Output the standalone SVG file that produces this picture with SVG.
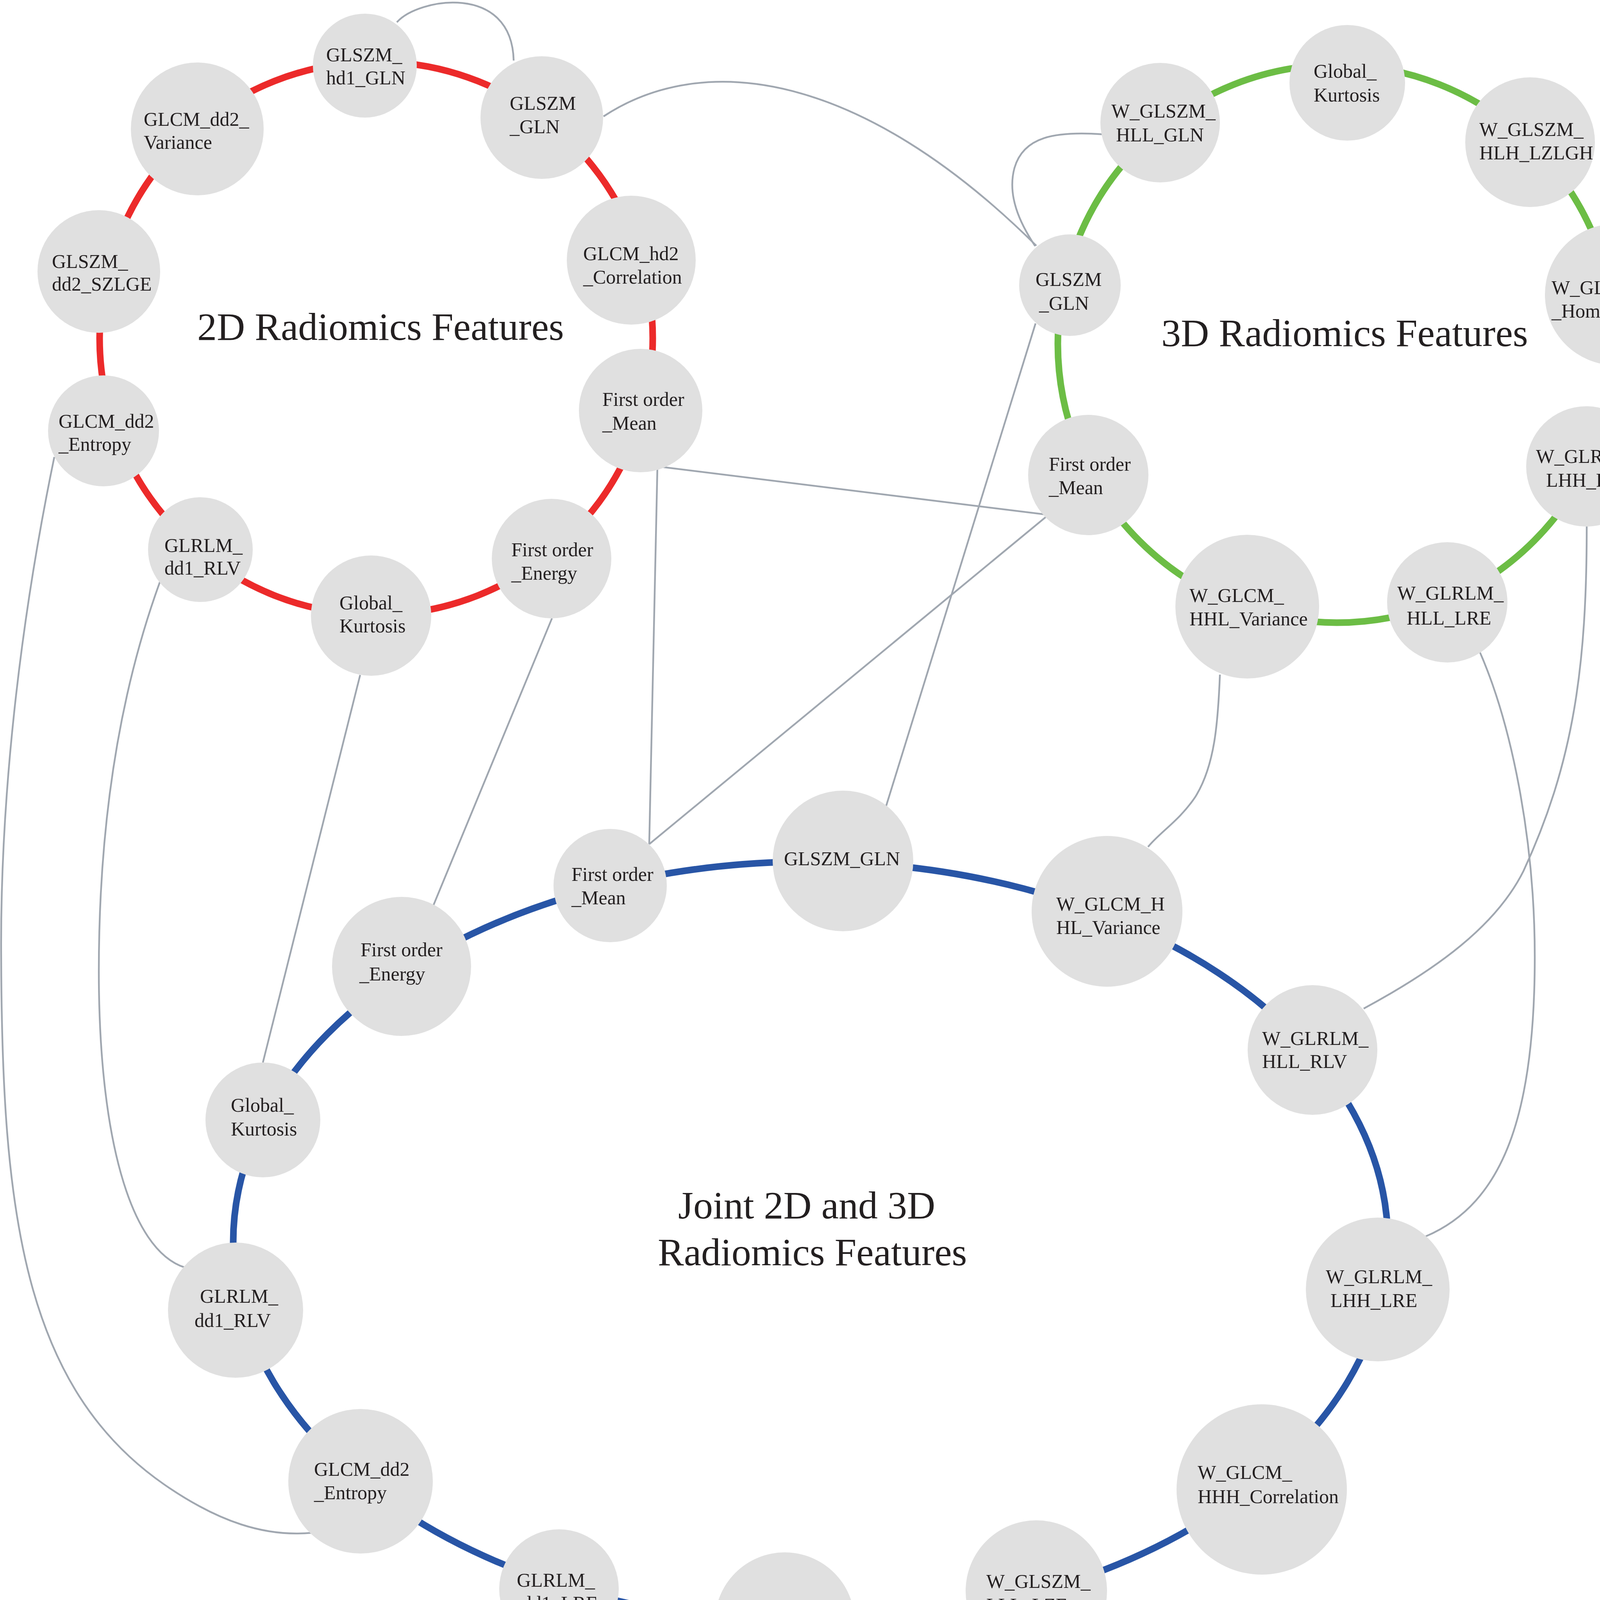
<svg xmlns="http://www.w3.org/2000/svg" width="4317" height="4406" viewBox="0 0 4317 4406">
<style>
.ring{fill:none;stroke-width:17}
.r2d{stroke:#ec2a2a}
.r3d{stroke:#6cbd45}
.rj{stroke:#2855a6}
.edge{fill:none;stroke:#a0a7b0;stroke-width:4.5}
.node circle{fill:#e0e0e0}
.node text{font-family:"Liberation Serif","Times New Roman",serif;font-size:50px;fill:#231f20}
.title{font-family:"Liberation Serif","Times New Roman",serif;font-size:100px;fill:#231f20}
</style>
<rect width="4317" height="4406" fill="#ffffff"/>
<g id="rings">
<circle class="ring r2d" cx="963" cy="866" r="708"/>
<circle class="ring r3d" cx="3422" cy="880" r="714"/>
<ellipse class="ring rj" cx="2075" cy="3180" rx="1478" ry="974"/>
</g>
<g id="connectors">
<path class="edge" d="M1016,57 C1070,-5 1310,-45 1315,155"/>
<path class="edge" d="M1545,298 C1800,130 2200,180 2653,629"/>
<path class="edge" d="M2825,344 C2700,335 2620,350 2597,430 C2578,500 2610,570 2650,630"/>
<path class="edge" d="M2651,828 L2268,2065"/>
<path class="edge" d="M1683,1194 L2684,1318"/>
<path class="edge" d="M1683,1194 L1662,2161"/>
<path class="edge" d="M2684,1318 L1662,2161"/>
<path class="edge" d="M1413,1583 L1104,2331"/>
<path class="edge" d="M922,1728 L673,2720"/>
<path class="edge" d="M410,1488 C340,1680 253,2000 253,2487 C253,2900 330,3200 474,3245"/>
<path class="edge" d="M139,1170 C50,1600 0,2050 3,2450 C5,3100 60,3550 420,3800 C560,3897 680,3935 798,3924"/>
<path class="edge" d="M3123,1727 C3118,1850 3110,1960 3060,2040 C3020,2100 2970,2130 2939,2168"/>
<path class="edge" d="M3783,1657 C3870,1850 3929,2150 3929,2450 C3929,2850 3850,3080 3650,3165"/>
<path class="edge" d="M4062,1348 C4062,1700 4030,1950 3900,2230 C3830,2370 3680,2480 3491,2582"/>
</g>
<g id="n2d_hd1_gln" class="node"><circle cx="934" cy="168" r="133"/><text x="835" y="157">GLSZM_</text><text x="835" y="216">hd1_GLN</text></g>
<g id="n2d_dd2_variance" class="node"><circle cx="505" cy="330" r="170"/><text x="368" y="322">GLCM_dd2_</text><text x="368" y="381">Variance</text></g>
<g id="n2d_glszm_gln" class="node"><circle cx="1387" cy="301" r="157"/><text x="1305" y="281">GLSZM</text><text x="1305" y="341">_GLN</text></g>
<g id="n2d_dd2_szlge" class="node"><circle cx="253" cy="695" r="157"/><text x="133" y="686">GLSZM_</text><text x="133" y="744">dd2_SZLGE</text></g>
<g id="n2d_hd2_corr" class="node"><circle cx="1616" cy="666" r="165"/><text x="1493" y="666">GLCM_hd2</text><text x="1493" y="726">_Correlation</text></g>
<g id="n2d_mean" class="node"><circle cx="1640" cy="1051" r="158"/><text x="1542" y="1039">First order</text><text x="1542" y="1100">_Mean</text></g>
<g id="n2d_entropy" class="node"><circle cx="265" cy="1103" r="142"/><text x="150" y="1095">GLCM_dd2</text><text x="150" y="1154">_Entropy</text></g>
<g id="n2d_rlv" class="node"><circle cx="513" cy="1407" r="134"/><text x="421" y="1413">GLRLM_</text><text x="421" y="1471">dd1_RLV</text></g>
<g id="n2d_kurtosis" class="node"><circle cx="950" cy="1576" r="154"/><text x="869" y="1560">Global_</text><text x="869" y="1619">Kurtosis</text></g>
<g id="n2d_energy" class="node"><circle cx="1412" cy="1430" r="153"/><text x="1309" y="1424">First order</text><text x="1309" y="1484">_Energy</text></g>
<g id="n3d_kurtosis" class="node"><circle cx="3449" cy="212" r="148"/><text x="3363" y="199">Global_</text><text x="3363" y="260">Kurtosis</text></g>
<g id="n3d_hll_gln" class="node"><circle cx="2970" cy="314" r="153"/><text x="2845" y="301">W_GLSZM_</text><text x="2857" y="362">HLL_GLN</text></g>
<g id="n3d_hlh_lzlgh" class="node"><circle cx="3917" cy="364" r="166"/><text x="3787" y="348">W_GLSZM_</text><text x="3787" y="408">HLH_LZLGH</text></g>
<g id="n3d_homogeneity" class="node"><circle cx="4136" cy="754" r="181"/><text x="3972" y="753">W_GLCM_HLL</text><text x="3972" y="813">_Homogeneity</text></g>
<g id="n3d_glszm_gln" class="node"><circle cx="2739" cy="730" r="130"/><text x="2651" y="732">GLSZM</text><text x="2660" y="793">_GLN</text></g>
<g id="n3d_mean" class="node"><circle cx="2786" cy="1216" r="154"/><text x="2685" y="1205">First order</text><text x="2685" y="1265">_Mean</text></g>
<g id="n3d_lhh_rlv" class="node"><circle cx="4061" cy="1194" r="154"/><text x="3932" y="1185">W_GLRLM_</text><text x="3958" y="1246">LHH_RLV</text></g>
<g id="n3d_hhl_variance" class="node"><circle cx="3193" cy="1553" r="184"/><text x="3045" y="1541">W_GLCM_</text><text x="3045" y="1601">HHL_Variance</text></g>
<g id="n3d_hll_lre" class="node"><circle cx="3705" cy="1542" r="154"/><text x="3577" y="1535">W_GLRLM_</text><text x="3601" y="1599">HLL_LRE</text></g>
<g id="nj_mean" class="node"><circle cx="1562" cy="2267" r="145"/><text x="1463" y="2255">First order</text><text x="1463" y="2315">_Mean</text></g>
<g id="nj_glszm_gln" class="node"><circle cx="2158" cy="2204" r="180"/><text x="2007" y="2215">GLSZM_GLN</text></g>
<g id="nj_energy" class="node"><circle cx="1028" cy="2474" r="178"/><text x="923" y="2448">First order</text><text x="920" y="2510">_Energy</text></g>
<g id="nj_kurtosis" class="node"><circle cx="673" cy="2867" r="147"/><text x="591" y="2846">Global_</text><text x="591" y="2907">Kurtosis</text></g>
<g id="nj_rlv" class="node"><circle cx="603" cy="3354" r="173"/><text x="512" y="3335">GLRLM_</text><text x="498" y="3397">dd1_RLV</text></g>
<g id="nj_entropy" class="node"><circle cx="923" cy="3792" r="185"/><text x="804" y="3778">GLCM_dd2</text><text x="804" y="3838">_Entropy</text></g>
<g id="nj_lre" class="node"><circle cx="1431" cy="4068" r="153"/><text x="1323" y="4062">GLRLM_</text><text x="1336" y="4121">dd1_LRE</text></g>
<g id="nj_llh_gln" class="node"><circle cx="2009" cy="4153" r="179"/><text x="1887" y="4150">W_GLSZM_</text><text x="1887" y="4211">LLH_GLN</text></g>
<g id="nj_lll_lze" class="node"><circle cx="2653" cy="4073" r="181"/><text x="2525" y="4065">W_GLSZM_</text><text x="2525" y="4126">LLL_LZE</text></g>
<g id="nj_hhh_corr" class="node"><circle cx="3230" cy="3813" r="218"/><text x="3066" y="3786">W_GLCM_</text><text x="3066" y="3848">HHH_Correlation</text></g>
<g id="nj_lhh_lre" class="node"><circle cx="3527" cy="3301" r="184"/><text x="3394" y="3285">W_GLRLM_</text><text x="3406" y="3346">LHH_LRE</text></g>
<g id="nj_hll_rlv" class="node"><circle cx="3360" cy="2688" r="166"/><text x="3231" y="2675">W_GLRLM_</text><text x="3231" y="2734">HLL_RLV</text></g>
<g id="nj_hhl_variance" class="node"><circle cx="2834" cy="2333" r="193"/><text x="2704" y="2331">W_GLCM_H</text><text x="2704" y="2391">HL_Variance</text></g>
<g id="titles">
<text class="title" x="505" y="870">2D Radiomics Features</text>
<text class="title" x="2973" y="886">3D Radiomics Features</text>
<text class="title" x="1736" y="3119">Joint 2D and 3D</text>
<text class="title" x="1684" y="3239">Radiomics Features</text>
</g>
</svg>
